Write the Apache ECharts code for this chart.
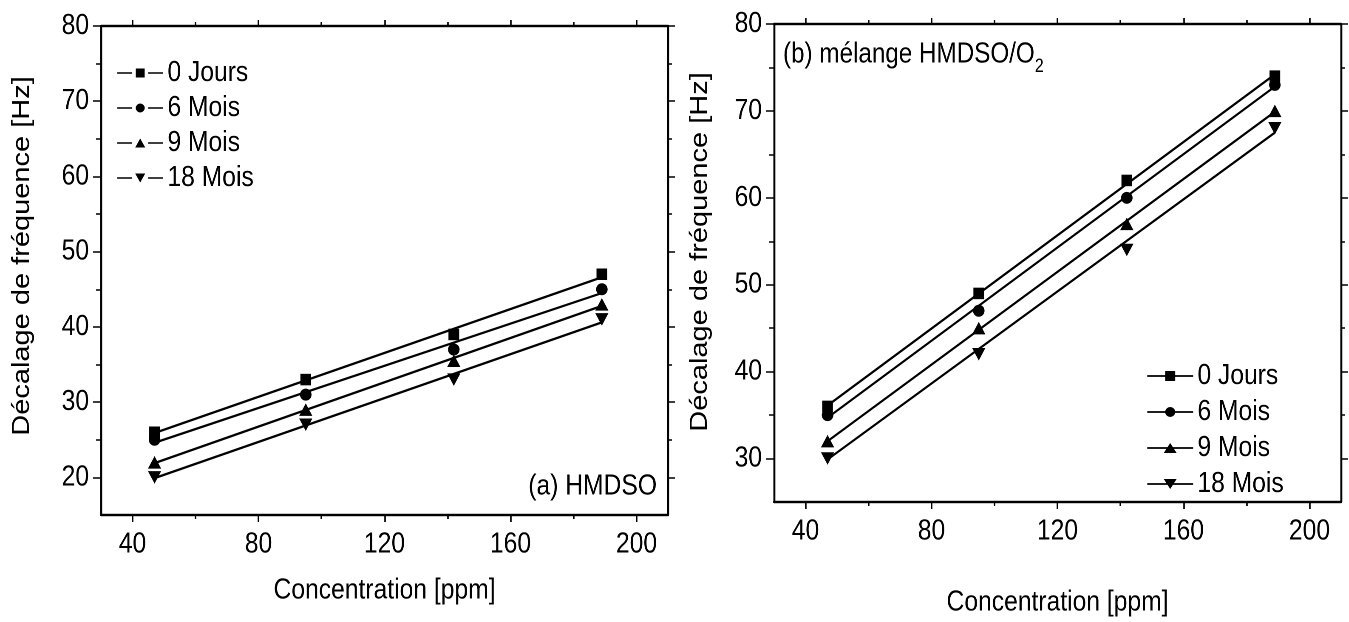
<!DOCTYPE html>
<html>
<head>
<meta charset="utf-8">
<script src="https://cdn.jsdelivr.net/npm/echarts@6/dist/echarts.min.js"></script>
<style>
html,body{margin:0;padding:0;background:#fff;overflow:hidden;}
#wrap{width:1349px;height:622px;overflow:hidden;}
#c{width:1587px;height:622px;transform:scaleX(0.85);transform-origin:0 0;}
</style>
</head>
<body>
<div id="wrap"><div id="c"></div></div>
<script>
// ---- data ----
const concentrations = [47, 95, 142, 189];
const groupNames = ['0 Jours', '6 Mois', '9 Mois', '18 Mois'];
// (a) HMDSO
const hmdso0j = [26, 33, 39, 47];
const hmdso6m = [25, 31, 37, 45];
const hmdso9m = [22, 29, 35.5, 43];
const hmdso18m = [20, 27, 33, 41];
// fitted lines at x = fitX
const fitX = [47, 189];
const hmdsoFitStart = [25.9, 24.6, 21.9, 19.9];
const hmdsoFitEnd = [46.6, 44.5, 42.8, 40.6];
// (b) mélange HMDSO/O2
const mix0j = [36, 49, 62, 74];
const mix6m = [35, 47, 60, 73];
const mix9m = [32, 45, 57, 70];
const mix18m = [30, 42, 54, 68];
const mixFitStart = [36.1, 34.7, 32.0, 29.9];
const mixFitEnd = [74.2, 72.8, 69.9, 67.5];
// ticks
const xMajor = [40, 80, 120, 160, 200];
const xMinor = [60, 100, 140, 180];
const yMajorA = [20, 30, 40, 50, 60, 70, 80];
const yMinorA = [25, 35, 45, 55, 65, 75];
const yMajorB = [30, 40, 50, 60, 70, 80];
const yMinorB = [35, 45, 55, 65, 75];

// The figure is horizontally condensed (CSS scaleX 0.85); horizontal layout values are in the unscaled frame.
const SX = 0.85;
const hx = v => v / SX;
const FONT = "'Liberation Sans', Arial, sans-serif";
const FS = 29;
const chart = echarts.init(document.getElementById('c'), null, { devicePixelRatio: 2 });

const symbols = ['rect', 'circle', 'triangle', 'triangle'];
const symbolRot = [0, 0, 0, 180];
const symbolSizes = [[12.6, 11.5], [13.6, 12], [15.6, 12.5], [15.6, 12.5]];

// legend icons (line + marker), drawn in a 54-wide box
const iconsGap = [
  'path://M0,3.7H17.6V5.3H0Z M21.8,0H32.2V9H21.8Z M36.4,3.7H54V5.3H36.4Z',
  'path://M0,3.7H17.6V5.3H0Z M32.3,4.5A5.3,4.5 0 1 1 21.7,4.5A5.3,4.5 0 1 1 32.3,4.5Z M36.4,3.7H54V5.3H36.4Z',
  'path://M0,3.7H17.6V5.3H0Z M27,0L32.9,9L21.1,9Z M36.4,3.7H54V5.3H36.4Z',
  'path://M0,3.7H17.6V5.3H0Z M21.1,0L32.9,0L27,9Z M36.4,3.7H54V5.3H36.4Z'
];
const iconsFull = [
  'path://M0,4.1H54V5.9H0Z M21.1,0H32.9V10H21.1Z',
  'path://M0,4.1H54V5.9H0Z M32.9,5A5.9,5 0 1 1 21.1,5A5.9,5 0 1 1 32.9,5Z',
  'path://M0,4.1H54V5.9H0Z M27,0L34.6,10L19.4,10Z',
  'path://M0,4.1H54V5.9H0Z M19.4,0L34.6,0L27,10Z'
];

function axisBase(g, min, max) {
  return {
    type: 'value', gridIndex: g, min: min, max: max,
    splitLine: { show: false },
    axisLine: { show: true, onZero: false, lineStyle: { color: '#000', width: 2.2 } },
    axisLabel: { show: false },
    axisTick: { show: true, inside: false, lineStyle: { color: '#000', width: 1.5 } }
  };
}
function tick(vals, len, w) {
  return { show: true, inside: false, customValues: vals, length: len, lineStyle: { color: '#000', width: w || 1.5 } };
}
function makeX(g, nameGap) {
  const lab = { show: true, customValues: xMajor, margin: 15, fontSize: FS, color: '#000', fontFamily: FONT };
  return [
    Object.assign(axisBase(g, 30, 210), { position: 'bottom', axisTick: tick(xMajor, 7, 1.8), axisLabel: lab,
      name: 'Concentration [ppm]', nameLocation: 'middle', nameGap: nameGap,
      nameTextStyle: { fontSize: FS, color: '#000', fontFamily: FONT } }),
    Object.assign(axisBase(g, 30, 210), { position: 'bottom', axisTick: tick(xMinor, 4, 1.8) }),
    Object.assign(axisBase(g, 30, 210), { position: 'top', axisTick: tick(xMajor, 6, 1.8) }),
    Object.assign(axisBase(g, 30, 210), { position: 'top', axisTick: tick(xMinor, 4, 1.8) })
  ];
}
function makeY(g, min, max, major, minor) {
  const lab = { show: true, customValues: major, margin: hx(12), fontSize: FS, color: '#000', fontFamily: FONT };
  return [
    Object.assign(axisBase(g, min, max), { position: 'left', axisTick: tick(major, hx(8)), axisLabel: lab }),
    Object.assign(axisBase(g, min, max), { position: 'left', axisTick: tick(minor, hx(5)) }),
    Object.assign(axisBase(g, min, max), { position: 'right', axisTick: tick(major, hx(7)) }),
    Object.assign(axisBase(g, min, max), { position: 'right', axisTick: tick(minor, hx(4)) })
  ];
}

const xAxes = makeX(0, 61).concat(makeX(1, 86));
const yAxes = makeY(0, 15, 80, yMajorA, yMinorA).concat(makeY(1, 25, 80, yMajorB, yMinorB));

const series = [];
function addPanel(prefix, axisIdx, groups, fitStart, fitEnd) {
  groups.forEach((vals, i) => {
    series.push({
      name: prefix + groupNames[i], type: 'line', xAxisIndex: axisIdx, yAxisIndex: axisIdx,
      data: [[fitX[0], fitStart[i]], [fitX[1], fitEnd[i]]],
      showSymbol: false, symbol: 'none', silent: true, z: 2,
      lineStyle: { color: '#000', width: 2.3 }, itemStyle: { color: '#000' }
    });
    series.push({
      name: prefix + groupNames[i], type: 'scatter', xAxisIndex: axisIdx, yAxisIndex: axisIdx,
      data: concentrations.map((c, k) => [c, vals[k]]),
      symbol: symbols[i], symbolRotate: symbolRot[i], symbolSize: symbolSizes[i], z: 3,
      itemStyle: { color: '#000', opacity: 1 }
    });
  });
}
addPanel('a:', 0, [hmdso0j, hmdso6m, hmdso9m, hmdso18m], hmdsoFitStart, hmdsoFitEnd);
addPanel('b:', 4, [mix0j, mix6m, mix9m, mix18m], mixFitStart, mixFitEnd);

const legendText = { fontSize: FS, color: '#000', fontFamily: FONT, lineHeight: 30 };
const yName = 'Décalage de fréquence [Hz]';
const option = {
  backgroundColor: '#fff',
  animation: false,
  grid: [
    { left: hx(101), top: 26, width: hx(567), height: 489 },
    { left: hx(774), top: 24, width: hx(567), height: 488 }
  ],
  xAxis: xAxes,
  yAxis: yAxes,
  legend: [
    { orient: 'vertical', left: hx(113), top: 53, itemWidth: 54, itemHeight: 9, itemGap: 5,
      data: groupNames.map((n, i) => ({ name: 'a:' + n, icon: iconsGap[i] })),
      formatter: n => n.slice(2), textStyle: legendText, selectedMode: false },
    { orient: 'vertical', left: hx(1143), top: 356, itemWidth: 54, itemHeight: 10, itemGap: 6,
      data: groupNames.map((n, i) => ({ name: 'b:' + n, icon: iconsFull[i] })),
      formatter: n => n.slice(2), textStyle: legendText, selectedMode: false }
  ],
  graphic: [
    { type: 'text', x: hx(22), y: 256, rotation: Math.PI / 2,
      style: { text: yName, fontSize: FS, fill: '#000', fontFamily: FONT, align: 'center', verticalAlign: 'middle' } },
    { type: 'text', x: hx(700), y: 252, rotation: Math.PI / 2,
      style: { text: yName, fontSize: FS, fill: '#000', fontFamily: FONT, align: 'center', verticalAlign: 'middle' } },
    { type: 'text', right: hx(1349 - 657), top: 472, style: { text: '(a) HMDSO', fontSize: FS, fill: '#000', fontFamily: FONT } },
    { type: 'text', left: hx(783), top: 40, style: {
      text: '{n|(b) mélange HMDSO/O}{s|2}', fill: '#000', fontFamily: FONT,
      rich: { n: { fontSize: 28.5, lineHeight: 44, verticalAlign: 'middle', fontFamily: FONT },
              s: { fontSize: 19, lineHeight: 44, verticalAlign: 'bottom', fontFamily: FONT } } } }
  ],
  series: series
};
chart.setOption(option);
</script>
</body>
</html>
